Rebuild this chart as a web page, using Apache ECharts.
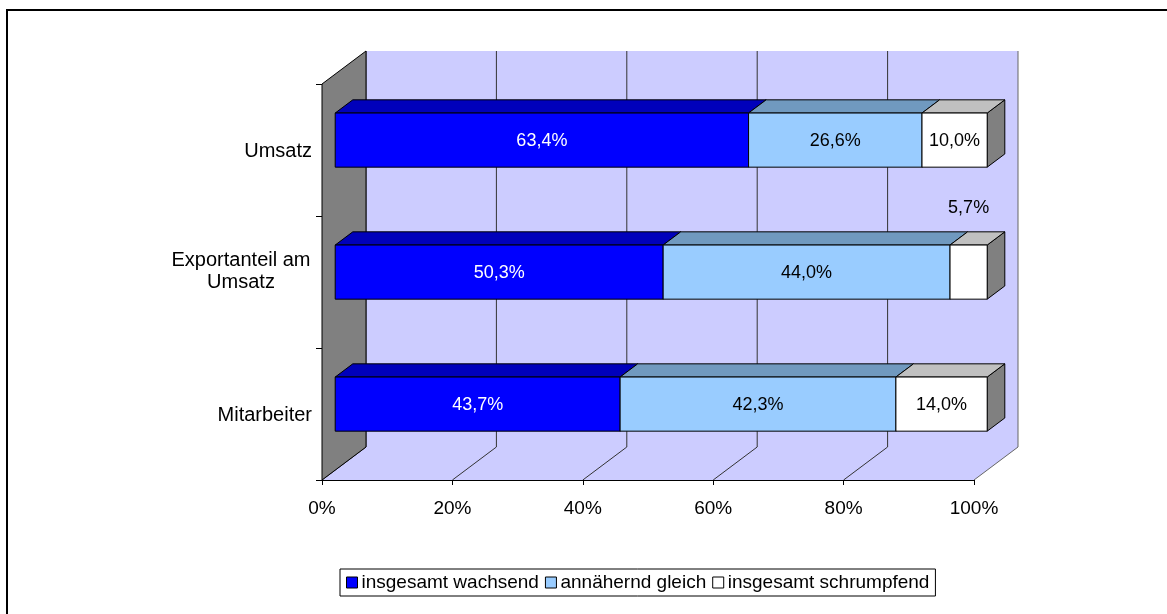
<!DOCTYPE html>
<html>
<head>
<meta charset="utf-8">
<title>Entwicklung</title>
<script src="https://cdn.jsdelivr.net/npm/echarts@6/dist/echarts.min.js"></script>
<style>
  html, body { margin: 0; padding: 0; background: #fff; }
  #chart { width: 1167px; height: 614px; }
</style>
</head>
<body>
<div id="chart"></div>
<script>
// Daten
const categories = ['Umsatz', 'Exportanteil am\nUmsatz', 'Mitarbeiter']
const wachsend = [63.4, 50.3, 43.7]
const gleich = [26.6, 44.0, 42.3]
const schrumpfend = [10.0, 5.7, 14.0]
const seriesNames = ['insgesamt wachsend', 'annähernd gleich', 'insgesamt schrumpfend']
const xTicks = [0, 20, 40, 60, 80, 100]

// 3D-Tiefe (Pixel)
const DEPTH_X = 44
const DEPTH_Y = 33
const BAR_FRONT = 0.3   // Lage der Balkenfront in der Tiefe
const BAR_DEPTH = 0.4   // Balkentiefe
const FONT = '"Liberation Sans", Arial, sans-serif'

const chart = echarts.init(document.getElementById('chart'))

// gestapelte Werte -> [start, end, catIndex, value]
const stacked = [wachsend, gleich, schrumpfend].map(() => [])
categories.forEach((c, i) => {
  let acc = 0
  ;[wachsend, gleich, schrumpfend].forEach((arr, s) => {
    stacked[s].push([acc, acc + arr[i], i, arr[i]])
    acc += arr[i]
  })
})

function wallsRender(params, api) {
  const cs = params.coordSys
  const x0 = cs.x, x1 = cs.x + cs.width
  const y0 = cs.y, y1 = cs.y + cs.height
  const children = []
  // Rückwand
  children.push({
    type: 'rect',
    shape: { x: x0 + DEPTH_X, y: y0 - DEPTH_Y, width: cs.width, height: cs.height },
    style: { fill: '#CCCCFF', stroke: null }
  })
  // Boden
  children.push({
    type: 'polygon',
    shape: { points: [[x0, y1], [x1, y1], [x1 + DEPTH_X, y1 - DEPTH_Y], [x0 + DEPTH_X, y1 - DEPTH_Y]] },
    style: { fill: '#CCCCFF', stroke: null }
  })
  // Gitterlinien
  xTicks.forEach(t => {
    const x = api.coord([t, 0])[0]
    children.push({
      type: 'polyline',
      shape: { points: [[x + DEPTH_X, y0 - DEPTH_Y], [x + DEPTH_X, y1 - DEPTH_Y], [x, y1]] },
      style: { fill: null, stroke: t === 100 ? '#666' : '#333', lineWidth: 1 }
    })
  })
  // linke Wand
  children.push({
    type: 'polygon',
    shape: { points: [[x0, y0], [x0 + DEPTH_X, y0 - DEPTH_Y], [x0 + DEPTH_X, y1 - DEPTH_Y], [x0, y1]] },
    style: { fill: '#808080', stroke: '#000', lineWidth: 1 }
  })
  return { type: 'group', children: children }
}

function barRender(faceColor, topColor, sideColor, textColor) {
  return function (params, api) {
    const start = api.value(0), end = api.value(1), cat = api.value(2), v = api.value(3)
    const p0 = api.coord([start, cat])
    const p1 = api.coord([end, cat])
    const band = api.size([0, 1])[1]
    const h = band * 0.41
    const fx = DEPTH_X * BAR_FRONT, fy = DEPTH_Y * BAR_FRONT
    const bx = DEPTH_X * BAR_DEPTH, by = DEPTH_Y * BAR_DEPTH
    const xa = p0[0] + fx, xb = p1[0] + fx
    const yc = p0[1] - fy
    const yt = yc - h / 2, yb = yc + h / 2
    const st = { stroke: '#000', lineWidth: 1 }
    const children = [
      { type: 'polygon', shape: { points: [[xb, yt], [xb + bx, yt - by], [xb + bx, yb - by], [xb, yb]] },
        style: Object.assign({ fill: sideColor }, st) },
      { type: 'polygon', shape: { points: [[xa, yt], [xb, yt], [xb + bx, yt - by], [xa + bx, yt - by]] },
        style: Object.assign({ fill: topColor }, st) },
      { type: 'rect', shape: { x: xa, y: yt, width: xb - xa, height: h },
        style: Object.assign({ fill: faceColor }, st) }
    ]
    // kleine Segmente: Beschriftung oberhalb
    const small = v < 8
    children.push({
      type: 'text',
      z2: 10,
      style: {
        text: v.toFixed(1).replace('.', ',') + '%',
        x: (xa + xb) / 2,
        y: small ? yt - 37 : yc + 1,
        align: 'center',
        verticalAlign: 'middle',
        fill: small ? '#000' : textColor,
        font: '18px ' + FONT
      }
    })
    return { type: 'group', children: children }
  }
}

const colors = [
  { face: '#0000FF', top: '#0000BB', side: '#000080', text: '#fff' },
  { face: '#99CCFF', top: '#7099BF', side: '#4D6680', text: '#000' },
  { face: '#FFFFFF', top: '#C0C0C0', side: '#808080', text: '#000' }
]

const option = {
  backgroundColor: '#fff',
  animation: false,
  textStyle: { fontFamily: FONT },
  graphic: [{
    type: 'rect',
    shape: { x: 7, y: 10, width: 1200, height: 700 },
    style: { fill: null, stroke: '#000', lineWidth: 2 },
    silent: true
  }],
  grid: { left: 322, right: 193, top: 84, bottom: 134 },
  legend: {
    left: 340,
    top: 569,
    orient: 'horizontal',
    data: seriesNames,
    borderColor: '#000',
    borderWidth: 1,
    padding: [4, 6, 4, 6],
    itemGap: 6,
    itemWidth: 11,
    itemHeight: 11,
    icon: 'rect',
    itemStyle: { borderColor: '#000', borderWidth: 1 },
    textStyle: { fontSize: 19, color: '#000', fontFamily: FONT, padding: [0, 0, 0, -1] }
  },
  xAxis: {
    type: 'value',
    min: 0,
    max: 100,
    interval: 20,
    z: 5,
    axisLine: { show: true, lineStyle: { color: '#000', width: 1 } },
    axisTick: { show: true, length: 5, lineStyle: { color: '#000' } },
    splitLine: { show: false },
    axisLabel: { formatter: '{value}%', fontSize: 19, color: '#000', margin: 19, fontFamily: FONT }
  },
  yAxis: {
    type: 'category',
    inverse: true,
    data: categories,
    z: 5,
    axisLine: { show: false },
    axisTick: { show: true, length: 6, lineStyle: { color: '#000' } },
    splitLine: { show: false },
    axisLabel: {
      fontSize: 20,
      color: '#000',
      margin: 10,
      lineHeight: 22,
      fontFamily: FONT,
      formatter: (val) => {
        if (val.indexOf('\n') < 0) return '{s|' + val + '}'
        // zweizeilig: zentriert, etwas nach oben versetzt
        return val.split('\n').map(s => '{c|' + s + '}').join('\n') + '\n{c| }'
      },
      rich: {
        s: { fontSize: 20, lineHeight: 22, fontFamily: FONT, padding: [3, 0, 0, 0] },
        c: { width: 142, align: 'center', fontSize: 20, lineHeight: 22, fontFamily: FONT }
      }
    }
  },
  series: [
    {
      type: 'custom',
      name: 'walls',
      z: 1,
      silent: true,
      renderItem: wallsRender,
      data: [[0, 0]]
    }
  ].concat(seriesNames.map((name, s) => ({
    type: 'custom',
    name: name,
    z: 2 + s,
    itemStyle: { color: colors[s].face },
    renderItem: barRender(colors[s].face, colors[s].top, colors[s].side, colors[s].text),
    encode: { x: [0, 1], y: 2 },
    data: stacked[s]
  })))
}

chart.setOption(option)
window.addEventListener('resize', () => chart.resize())
</script>
</body>
</html>
